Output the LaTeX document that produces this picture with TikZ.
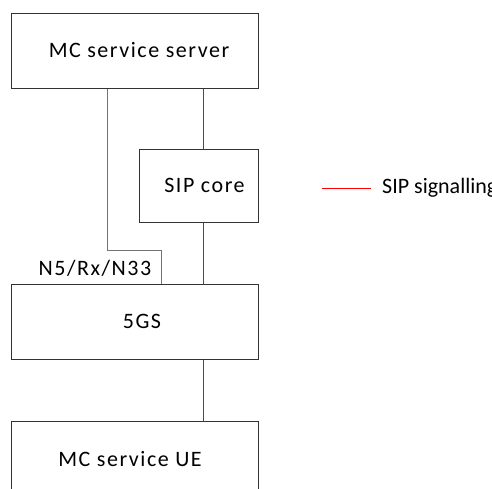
\documentclass[tikz,border=0pt]{standalone}
\usepackage{fontspec}
\setmainfont{Carlito}
\newfontfamily\widefont{Carlito}[LetterSpace=7]
\usetikzlibrary{positioning}
\tikzset{
  box/.style={draw=black!80,line width=1pt,inner sep=0pt,minimum width=247pt,minimum height=75pt},
  boxtext/.style={font=\widefont\fontsize{22}{26}\selectfont},
  sigline/.style={draw=red,line width=1.2pt},
  refline/.style={draw=black!55,line width=1pt}
}

\begin{document}
\begin{tikzpicture}[x=1pt,y=-1pt,font=\fontsize{22}{26}\selectfont]
      \useasboundingbox (0,0) rectangle (492,489);
      \clip (0,0) rectangle (492,489);

      % entities
      \node[box] at (135,51) (server) {};
      \node[box,minimum width=119pt,minimum height=73pt] at (199,186) (sipcore) {};
      \node[box] at (135,321.5) (fgs) {};
      \node[box,minimum height=76pt] at (135,459.5) (ue) {};
      \node[boxtext] at (139,50.5) {MC service server};
      \node[boxtext] at (204.5,185.5) {SIP core};
      \node[boxtext] at (142,321) {5GS};
      \node[boxtext] at (130,459) {MC service UE};

      % SIP signalling path
      \coordinate (s) at (203.5,0);
      \draw[sigline] (server.south -| s) -- (sipcore.north -| s);
      \draw[sigline] (sipcore.south -| s) -- (fgs.north -| s);
      \draw[sigline] (fgs.south -| s) -- (ue.north -| s);

      % N5/Rx/N33 reference point
      \coordinate (n1) at (107.5,0);
      \coordinate (n2) at (161.5,250.5);
      \draw[refline] (server.south -| n1) |- (n2) -- (fgs.north -| n2);
      \node[boxtext] at (95,268) (nref) {N5/Rx/N33};

      % legend
      \coordinate (leg) at (322,188.5);
      \draw[sigline,line width=1pt] (leg) -- ++(49,0) coordinate (legend);
      \node[anchor=west,inner sep=0pt] at (382,188) (legtext) {SIP signalling};
\end{tikzpicture}
\end{document}
